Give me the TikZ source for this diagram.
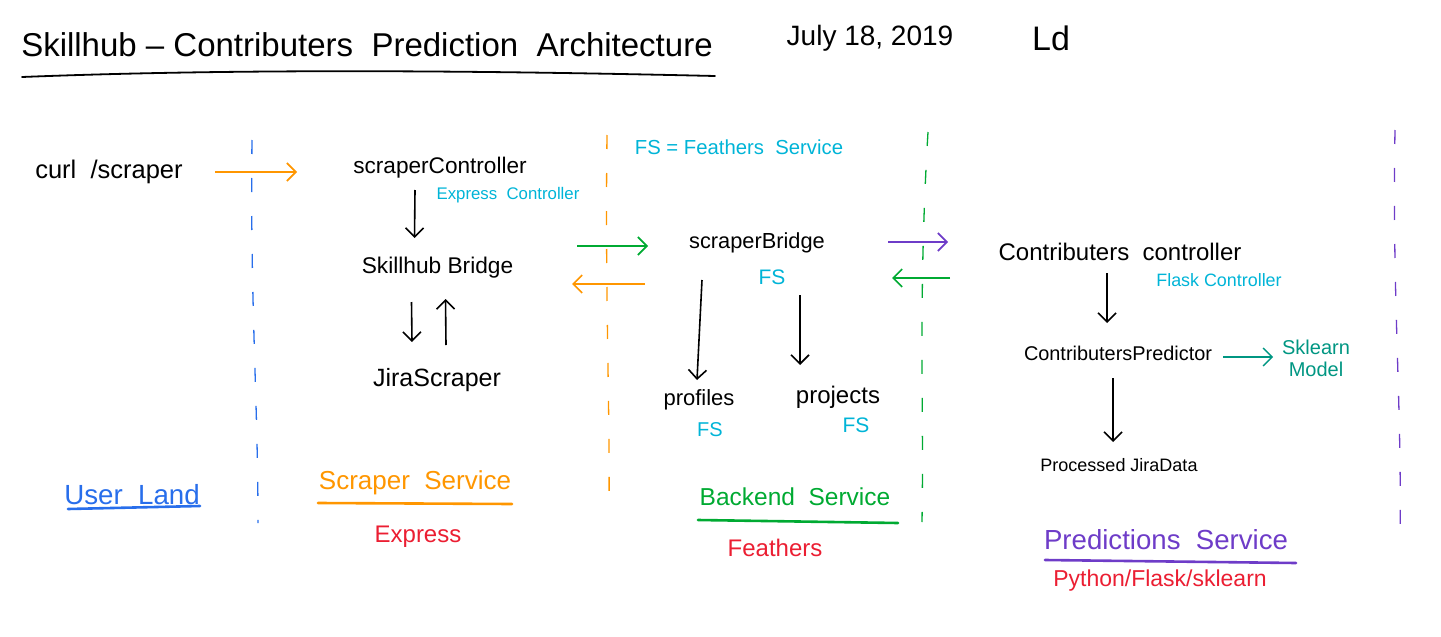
\documentclass[tikz,border=0pt]{standalone}
\usepackage{fontspec}
\setmainfont{Liberation Sans}
\usetikzlibrary{arrows.meta}
\definecolor{ublue}{RGB}{40,110,235}
\definecolor{uorange}{RGB}{255,150,0}
\definecolor{ugreen}{RGB}{0,170,50}
\definecolor{upurple}{RGB}{110,60,200}
\definecolor{ucyan}{RGB}{0,180,215}
\definecolor{uteal}{RGB}{0,150,130}
\definecolor{ured}{RGB}{235,30,50}
\begin{document}
\begin{tikzpicture}[x=1pt,y=-1pt,
  txt/.style={inner sep=0pt, anchor=center},
  fs/.style={font=\fontsize{#1}{#1}\selectfont},
  arr/.style={-{Straight Barb[length=9pt,width=18pt]}, line width=1.6pt},
  sep/.style={line width=1.3pt, dash pattern=on 14pt off 24pt},
  uline/.style={line width=2.6pt, line cap=round},
]
\useasboundingbox (0,0) rectangle (1441,637);
% title
\node[txt, fs=33] (title) at (367,45) {Skillhub -- Contributers\ \ Prediction\ \ Architecture};
\node[txt, fs=28] (date) at (870,38) {July 18, 2019};
\node[txt, fs=34] (sig) at (1051,38) {Ld};
\draw[line width=1.8pt, line cap=round] (22,77) .. controls (250,68) and (500,71) .. (715,76);
% separators
\draw[sep, ublue] (252,140) .. controls (250,300) and (258,400) .. (258,523);
\draw[sep, uorange] (607,135) .. controls (605,300) and (610,400) .. (609,512);
\draw[sep, ugreen] (928,132) .. controls (918,300) and (924,400) .. (922,522);
\draw[sep, upurple] (1395,130) .. controls (1392,300) and (1402,400) .. (1400,540);
% nodes
\node[txt, fs=25.5] (curl) at (109,172) {curl\ \ /scraper};
\node[txt, fs=22.6] (ctrl) at (440,168) {scraperController};
\node[txt, fs=16.8, text=ucyan] (expctrl) at (508,195) {Express\ \ Controller};
\node[txt, fs=22.7] (sbridge) at (437.5,268) {Skillhub Bridge};
\node[txt, fs=25] (jira) at (437,380) {JiraScraper};
\node[txt, fs=20.3, text=ucyan] (fsnote) at (739,147) {FS = Feathers\ \ Service};
\node[txt, fs=21.8] (scbridge) at (757,243) {scraperBridge};
\node[txt, fs=21, text=ucyan] (fs1) at (772,277) {FS};
\node[txt, fs=22] (profiles) at (699,400) {profiles};
\node[txt, fs=20, text=ucyan] (fs2) at (710,430) {FS};
\node[txt, fs=24] (projects) at (838,397) {projects};
\node[txt, fs=21, text=ucyan] (fs3) at (856,425) {FS};
\node[txt, fs=24] (cctrl) at (1120,252) {Contributers\ \ controller};
\node[txt, fs=17.9, text=ucyan] (flask) at (1219,280) {Flask Controller};
\node[txt, fs=19.9] (cpred) at (1118,353) {ContributersPredictor};
\node[txt, fs=20, text=uteal, align=center] (sklearn) at (1316,358) {Sklearn\\[2pt]Model};
\node[txt, fs=18] (pjd) at (1119,465) {Processed JiraData};
% labels
\node[txt, fs=27.7, text=ublue] (userland) at (132,495) {User\ \ Land};
\node[txt, fs=26, text=uorange] (scrsvc) at (415,483) {Scraper\ \ Service};
\node[txt, fs=24, text=ured] (express) at (418,537) {Express};
\node[txt, fs=24.5, text=ugreen] (backend) at (795,497) {Backend\ \ Service};
\node[txt, fs=24, text=ured] (feathers) at (775,548) {Feathers};
\node[txt, fs=27.6, text=upurple] (predsvc) at (1166,540) {Predictions\ \ Service};
\node[txt, fs=23, text=ured] (pfs) at (1160,581) {Python/Flask/sklearn};
% underlines
\draw[uline, ublue] (68,509) -- (200,506);
\draw[uline, uorange] (318,503) -- (512,504);
\draw[uline, ugreen] (698,520) -- (898,523);
\draw[uline, upurple] (1045,560) -- (1296,563);
% connectors
\draw[arr, uorange] ([shift={(106,0)}]curl.center) -- ([shift={(-143,4)}]ctrl.center);
\draw[arr] ([shift={(-25,22)}]ctrl.center) -- ([shift={(-23,-30)}]sbridge.center);
\draw[arr] ([shift={(-26,34)}]sbridge.center) -- ([shift={(-25,-38)}]jira.center);
\draw[arr] ([shift={(9,-35)}]jira.center) -- ([shift={(8,31)}]sbridge.center);
\draw[arr, ugreen] ([shift={(139.5,-22)}]sbridge.center) -- ([shift={(-109,3)}]scbridge.center);
\draw[arr, uorange] ([shift={(-112,41)}]scbridge.center) -- ([shift={(134.5,16)}]sbridge.center);
\draw[arr] ([shift={(-55,37)}]scbridge.center) -- ([shift={(-2,-20)}]profiles.center);
\draw[arr] ([shift={(43,52)}]scbridge.center) -- ([shift={(-38,-32)}]projects.center);
\draw[arr, upurple] ([shift={(131,-1)}]scbridge.center) -- ([shift={(-172,-10)}]cctrl.center);
\draw[arr, ugreen] ([shift={(-170,26)}]cctrl.center) -- ([shift={(135,35)}]scbridge.center);
\draw[arr] ([shift={(-13,21)}]cctrl.center) -- ([shift={(-11,-30)}]cpred.center);
\draw[arr, uteal, line width=1.3pt] ([shift={(105,4)}]cpred.center) -- ([shift={(-43,-1)}]sklearn.center);
\draw[arr] ([shift={(-5,25)}]cpred.center) -- ([shift={(-6,-23)}]pjd.center);
\end{tikzpicture}
\end{document}
